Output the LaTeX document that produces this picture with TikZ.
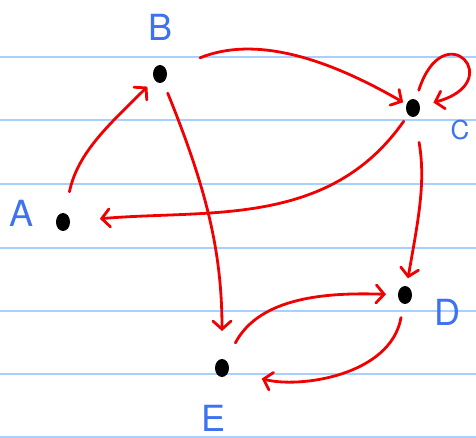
\documentclass[tikz,border=0pt]{standalone}
\usepackage{fontspec}
\setmainfont{TeX Gyre Heros}
\usetikzlibrary{arrows.meta, shapes.geometric}
\definecolor{ruleBlue}{HTML}{A8D0FF}
\definecolor{inkBlue}{HTML}{3D72F0}
\definecolor{inkRed}{HTML}{F00000}

\begin{document}
\begin{tikzpicture}[x=1pt,y=1pt]
    \tikzset{dot/.style={ellipse,fill=black,minimum width=14pt,minimum height=18pt,inner sep=0pt,outer sep=0pt},
      lbl/.style={text=inkBlue,font=\fontsize{36}{36}\selectfont,inner sep=0pt},
      arc/.style={draw=inkRed,line width=2.8pt,line cap=round,-{Straight Barb[length=8pt,width=18pt,line cap=round]}}}
    \useasboundingbox (0,0) rectangle (476,-438);
    % ruled paper
    \foreach \y in {57,120,184,248,311,374,437}
      \draw[ruleBlue,line width=1.8pt] (0,-\y) -- (476,-\y);
    % vertices
    \node[dot] (A) at (63,-222) {};
    \node[dot] (B) at (160,-74) {};
    \node[dot] (C) at (413,-108) {};
    \node[dot] (D) at (405,-295) {};
    \node[dot] (E) at (222,-368) {};
    \node[lbl] (la) at (22,-213) {A};
    \node[lbl] (lb) at (161,-27) {B};
    \node[lbl,font=\fontsize{26}{26}\selectfont] (lc) at (460,-130) {C};
    \node[lbl] (ld) at (447,-312) {D};
    \node[lbl] (le) at (214,-418) {E};
    % edges
    \draw[arc,shorten <=22pt,shorten >=10pt] (A) to[out=78,in=225] (B);
    \draw[arc,shorten <=36pt,shorten >=4pt] (B) to[out=22,in=150] (C);
    \draw[arc,shorten <=12pt,shorten >=28pt] (B) to[out=-68,in=90] (E);
    \draw[arc,shorten <=10pt,shorten >=14pt] (C) to[out=72,in=15,distance=92pt] (C);
    \draw[arc,shorten <=8pt,shorten >=30pt] (C) to[out=235,in=5] (A);
    \draw[arc,shorten <=26pt,shorten >=8pt] (C) to[out=-80,in=80] (D);
    \draw[arc,shorten <=20pt,shorten >=12pt] (E) to[out=62,in=178] (D);
    \draw[arc,shorten <=14pt,shorten >=34pt] (D) to[out=-100,in=-15] (E);
  \end{tikzpicture}
\end{document}
